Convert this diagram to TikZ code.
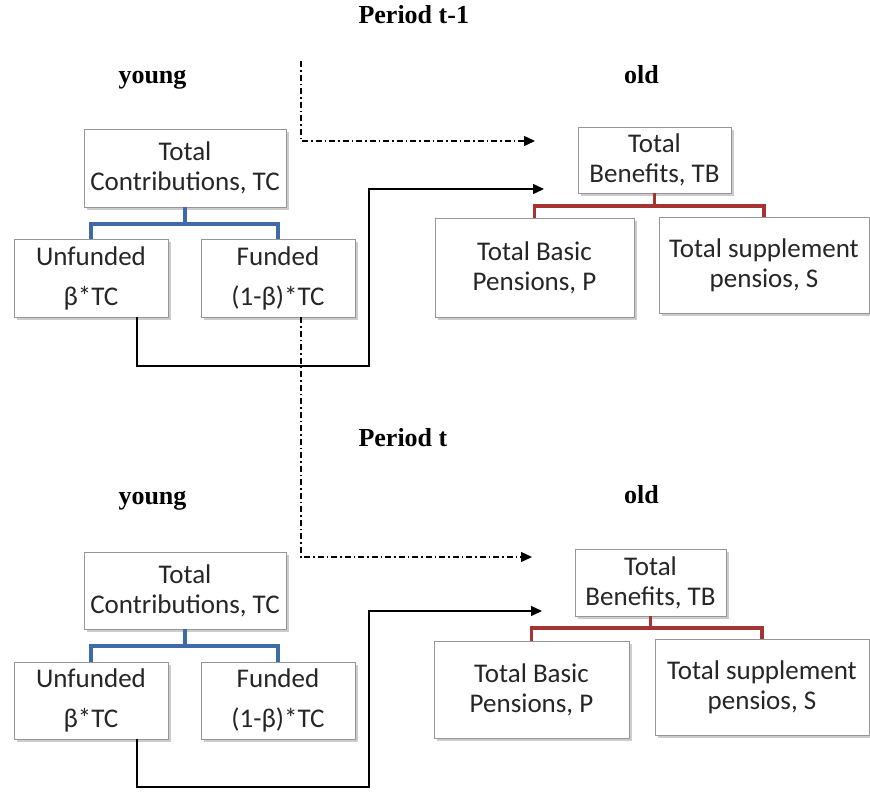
\documentclass[tikz,border=0pt]{standalone}
\usepackage{fontspec}
\setmainfont{Liberation Serif}
\newfontfamily\boxfont{Carlito}
\usetikzlibrary{arrows.meta,shadows,calc}
\definecolor{bluec}{RGB}{62,106,170}
\definecolor{redc}{RGB}{165,52,52}
\definecolor{boxedge}{RGB}{150,150,150}
\begin{document}
\begin{tikzpicture}[x=1pt,y=-1pt,
  box/.style={draw=boxedge, line width=0.8pt, fill=white, align=center,
    font=\boxfont\fontsize{27}{30}\selectfont, text=black!85, inner sep=0pt,
    drop shadow={shadow xshift=2.5pt, shadow yshift=-2.5pt, opacity=0.4}},
  lbl/.style={font=\bfseries\fontsize{26}{30}\selectfont, anchor=base},
  blueline/.style={draw=bluec, line width=3.5pt},
  redline/.style={draw=redc, line width=3.5pt},
  flow/.style={draw=black, line width=1.4pt, -{Triangle[length=11pt,width=10pt]}},
  carry/.style={draw=black, line width=1.4pt, dash pattern=on 6pt off 3pt on 1.5pt off 3pt, -{Triangle[length=11pt,width=10pt]}},
]
\useasboundingbox (0,0) rectangle (870,793);

% ---------- Period t-1 ----------
\node[lbl, anchor=base west] (P1title) at (355,23) {Period t-1};
\node[lbl] (young1) at (152.5,83) {young};
\node[lbl] (old1) at (641.5,83) {old};

\node[box, minimum width=202pt, minimum height=78pt] (TC1) at (185,168) {Total\\Contributions, TC};
\node[box, minimum width=154pt, minimum height=78pt] (U1) at (91,278) {Unfunded\\[10pt]β*TC};
\node[box, minimum width=154pt, minimum height=78pt] (F1) at (278,278) {Funded\\[10pt](1-β)*TC};

\node[box, minimum width=153pt, minimum height=66pt] (TB1) at (654.5,160) {Total\\Benefits, TB};
\node[box, minimum width=199pt, minimum height=99pt] (BP1) at (534.5,267.5) {Total Basic\\Pensions, P};
\node[box, minimum width=210pt, minimum height=96pt] (SP1) at (764,265) {Total supplement\\pensios, S};

\coordinate (bj1) at (185,224);
\draw[blueline] (TC1.south) -- (bj1);
\draw[blueline] (U1.north) |- (bj1) -| (F1.north);

\coordinate (rj1) at (654.5,206);
\draw[redline] (TB1.south) -- (rj1);
\draw[redline] (BP1.north) |- (rj1) -| (SP1.north);

\coordinate (d0) at (301,61);
\coordinate (c1) at (535,141);
\draw[carry] (d0) |- (c1);

\coordinate (k1) at (369,366);
\coordinate (a1) at (544,189);
\draw[flow] ([xshift=46pt]U1.south) |- (k1) |- (a1);

% ---------- Period t ----------
\node[lbl, anchor=base west] (P2title) at (355,446) {Period t};
\node[lbl] (young2) at (152.5,504) {young};
\node[lbl] (old2) at (641.5,503) {old};

\node[box, minimum width=202pt, minimum height=77pt] (TC2) at (185,590.5) {Total\\Contributions, TC};
\node[box, minimum width=154pt, minimum height=77pt] (U2) at (91,700.5) {Unfunded\\[10pt]β*TC};
\node[box, minimum width=154pt, minimum height=77pt] (F2) at (278,700.5) {Funded\\[10pt](1-β)*TC};

\node[box, minimum width=151pt, minimum height=67pt] (TB2) at (650.5,582.5) {Total\\Benefits, TB};
\node[box, minimum width=195pt, minimum height=97pt] (BP2) at (531.5,689.5) {Total Basic\\Pensions, P};
\node[box, minimum width=214pt, minimum height=96pt] (SP2) at (762,687) {Total supplement\\pensios, S};

\coordinate (bj2) at (185,646);
\draw[blueline] (TC2.south) -- (bj2);
\draw[blueline] (U2.north) |- (bj2) -| (F2.north);

\coordinate (rj2) at (650.5,628);
\draw[redline] (TB2.south) -- (rj2);
\draw[redline] (BP2.north) |- (rj2) -| (SP2.north);

\coordinate (c2) at (532,557);
\draw[carry] ([xshift=23pt]F1.south) |- (c2);

\coordinate (k2) at (369,787);
\coordinate (a2) at (542,611);
\draw[flow] ([xshift=46pt]U2.south) |- (k2) |- (a2);
\end{tikzpicture}
\end{document}
